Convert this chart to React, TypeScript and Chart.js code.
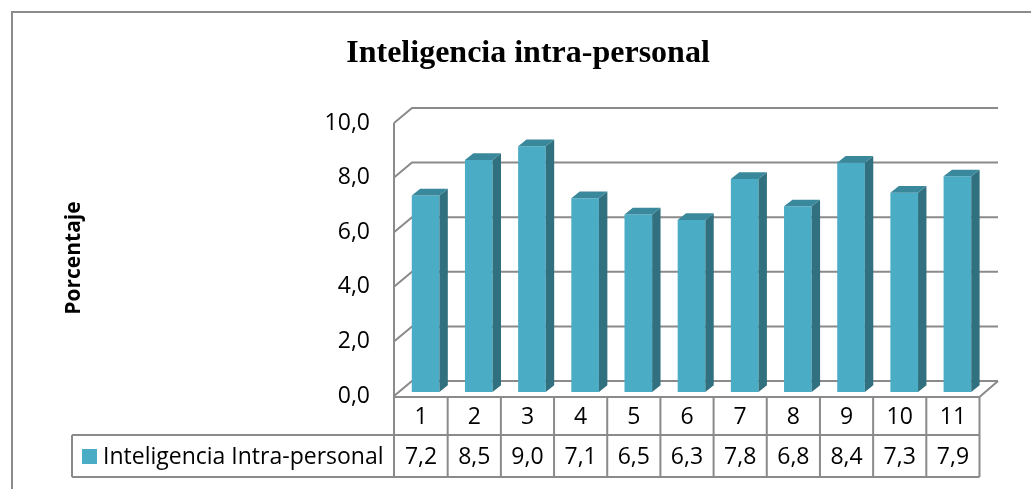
import React, { useEffect, useRef } from "react";
import { Chart, registerables } from "chart.js";

Chart.register(...registerables);

const categories = ["1", "2", "3", "4", "5", "6", "7", "8", "9", "10", "11"];
const values = [7.2, 8.5, 9.0, 7.1, 6.5, 6.3, 7.8, 6.8, 8.4, 7.3, 7.9];
const yTicks = [0, 2, 4, 6, 8, 10];
const yTickLabels = ["0,0", "2,0", "4,0", "6,0", "8,0", "10,0"];
const seriesName = "Inteligencia Intra-personal";
const chartTitle = "Inteligencia intra-personal";
const yAxisTitle = "Porcentaje";

const FRONT = "#4BACC6";
const SIDE = "#31707F";
const TOP = "#3A889C";
const GRID = "#8A8A8A";
const SANS = "'Open Sans', 'Noto Sans', sans-serif";

const fmt = (v: number) => v.toFixed(1).replace(".", ",");

const threeD = {
  id: "threeD",
  beforeDatasetsDraw(chart: any) {
    const ctx = chart.ctx;
    const xs = chart.scales.x;
    const ys = chart.scales.y;
    const backL = xs.left + 13;
    const backR = xs.right + 14;
    const frontL = xs.left - 5;
    const frontR = xs.right - 4.5;
    ctx.save();
    ctx.strokeStyle = "#8C8C8C";
    ctx.lineWidth = 2;
    ctx.beginPath();
    ctx.moveTo(12, 489);
    ctx.lineTo(12, 12);
    ctx.lineTo(1031, 12);
    ctx.stroke();
    ctx.strokeStyle = GRID;
    ctx.lineWidth = 2;
    ctx.beginPath();
    for (const v of yTicks) {
      const yb = ys.getPixelForValue(v) - 11;
      const yf = ys.getPixelForValue(v) + 4;
      ctx.moveTo(frontL, yf);
      ctx.lineTo(backL, yb);
      ctx.lineTo(backR, yb);
    }
    const yf0 = ys.getPixelForValue(0) + 4;
    const yb0 = ys.getPixelForValue(0) - 11;
    ctx.moveTo(backR, yb0);
    ctx.lineTo(frontR, yf0 + 1);
    ctx.moveTo(frontL, ys.getPixelForValue(10) + 4);
    ctx.lineTo(frontL, 477);
    ctx.stroke();
    ctx.restore();
  },
  afterDatasetsDraw(chart: any) {
    const ctx = chart.ctx;
    const meta = chart.getDatasetMeta(0);
    const dx = 8.4;
    const dy = 6.7;
    ctx.save();
    meta.data.forEach((bar: any) => {
      const { x, y, base, width } = bar.getProps(["x", "y", "base", "width"], true);
      const l = x - width / 2;
      const r = x + width / 2;
      ctx.fillStyle = SIDE;
      ctx.beginPath();
      ctx.moveTo(r, y);
      ctx.lineTo(r + dx, y - dy);
      ctx.lineTo(r + dx, base - dy);
      ctx.lineTo(r, base);
      ctx.closePath();
      ctx.fill();
      ctx.fillStyle = TOP;
      ctx.beginPath();
      ctx.moveTo(l, y);
      ctx.lineTo(l + dx, y - dy);
      ctx.lineTo(r + dx, y - dy);
      ctx.lineTo(r, y);
      ctx.closePath();
      ctx.fill();
    });
    ctx.restore();
  },
  afterDraw(chart: any) {
    const ctx = chart.ctx;
    const xs = chart.scales.x;
    const ys = chart.scales.y;
    ctx.save();
    ctx.fillStyle = "#000";
    ctx.font = "bold 32px 'Liberation Serif', 'Times New Roman', serif";
    ctx.textAlign = "center";
    ctx.textBaseline = "alphabetic";
    ctx.fillText(chartTitle, 528, 62);
    ctx.save();
    ctx.translate(74, 258);
    ctx.rotate(-Math.PI / 2);
    ctx.font = `bold 21px ${SANS}`;
    ctx.textBaseline = "middle";
    ctx.fillText(yAxisTitle, 0, 0);
    ctx.restore();
    ctx.font = `23px ${SANS}`;
    ctx.textAlign = "right";
    ctx.textBaseline = "middle";
    yTicks.forEach((v, i) => {
      ctx.fillText(yTickLabels[i], 370, ys.getPixelForValue(v) + 4);
    });
    const colW = xs.width / categories.length;
    const frontL = xs.left - 5;
    const top = ys.getPixelForValue(0) + 5;
    const mid = 435;
    const bot = 477;
    const legL = 72;
    ctx.strokeStyle = GRID;
    ctx.lineWidth = 2;
    ctx.beginPath();
    ctx.moveTo(frontL, top);
    ctx.lineTo(xs.right - 4.5, top);
    ctx.moveTo(legL, mid);
    ctx.lineTo(xs.right - 4.5, mid);
    ctx.moveTo(legL, bot);
    ctx.lineTo(xs.right - 4.5, bot);
    ctx.moveTo(legL, mid);
    ctx.lineTo(legL, bot);
    categories.forEach((c, i) => {
      const cx = xs.getPixelForValue(i) - 4.5;
      const rx = cx + colW / 2;
      ctx.moveTo(rx, top);
      ctx.lineTo(rx, bot);
    });
    ctx.stroke();
    ctx.textAlign = "center";
    ctx.fillStyle = "#000";
    categories.forEach((c, i) => {
      const cx = xs.getPixelForValue(i) - 4.5;
      ctx.fillText(c, cx, (top + mid) / 2 + 1);
      ctx.fillText(fmt(values[i]), cx, (mid + bot) / 2 + 1);
    });
    ctx.fillStyle = FRONT;
    ctx.fillRect(82, 449, 15, 15);
    ctx.fillStyle = "#000";
    ctx.textAlign = "left";
    ctx.fillText(seriesName, 103, (mid + bot) / 2 + 1);
    ctx.restore();
  },
};

export default function App() {
  const ref = useRef<HTMLCanvasElement | null>(null);
  useEffect(() => {
    if (!ref.current) return;
    const chart = new Chart(ref.current, {
      type: "bar",
      data: {
        labels: categories,
        datasets: [
          {
            label: seriesName,
            data: values,
            backgroundColor: FRONT,
            borderWidth: 0,
            barPercentage: 0.52,
            categoryPercentage: 1,
          },
        ],
      },
      options: {
        responsive: false,
        animation: false,
        devicePixelRatio: 1,
        layout: { padding: { left: 399, right: 47, top: 119, bottom: 97 } },
        scales: {
          x: { display: false },
          y: { display: false, min: 0, max: 10 },
        },
        plugins: {
          legend: { display: false },
          tooltip: { enabled: false },
          title: { display: false },
        },
      },
      plugins: [threeD],
    });
    return () => chart.destroy();
  }, []);
  return (
    <div style={{ position: "absolute", left: 0, top: 0, width: 1031, height: 489, background: "#fff" }}>
      <canvas ref={ref} width={1031} height={489} style={{ display: "block" }} />
    </div>
  );
}
